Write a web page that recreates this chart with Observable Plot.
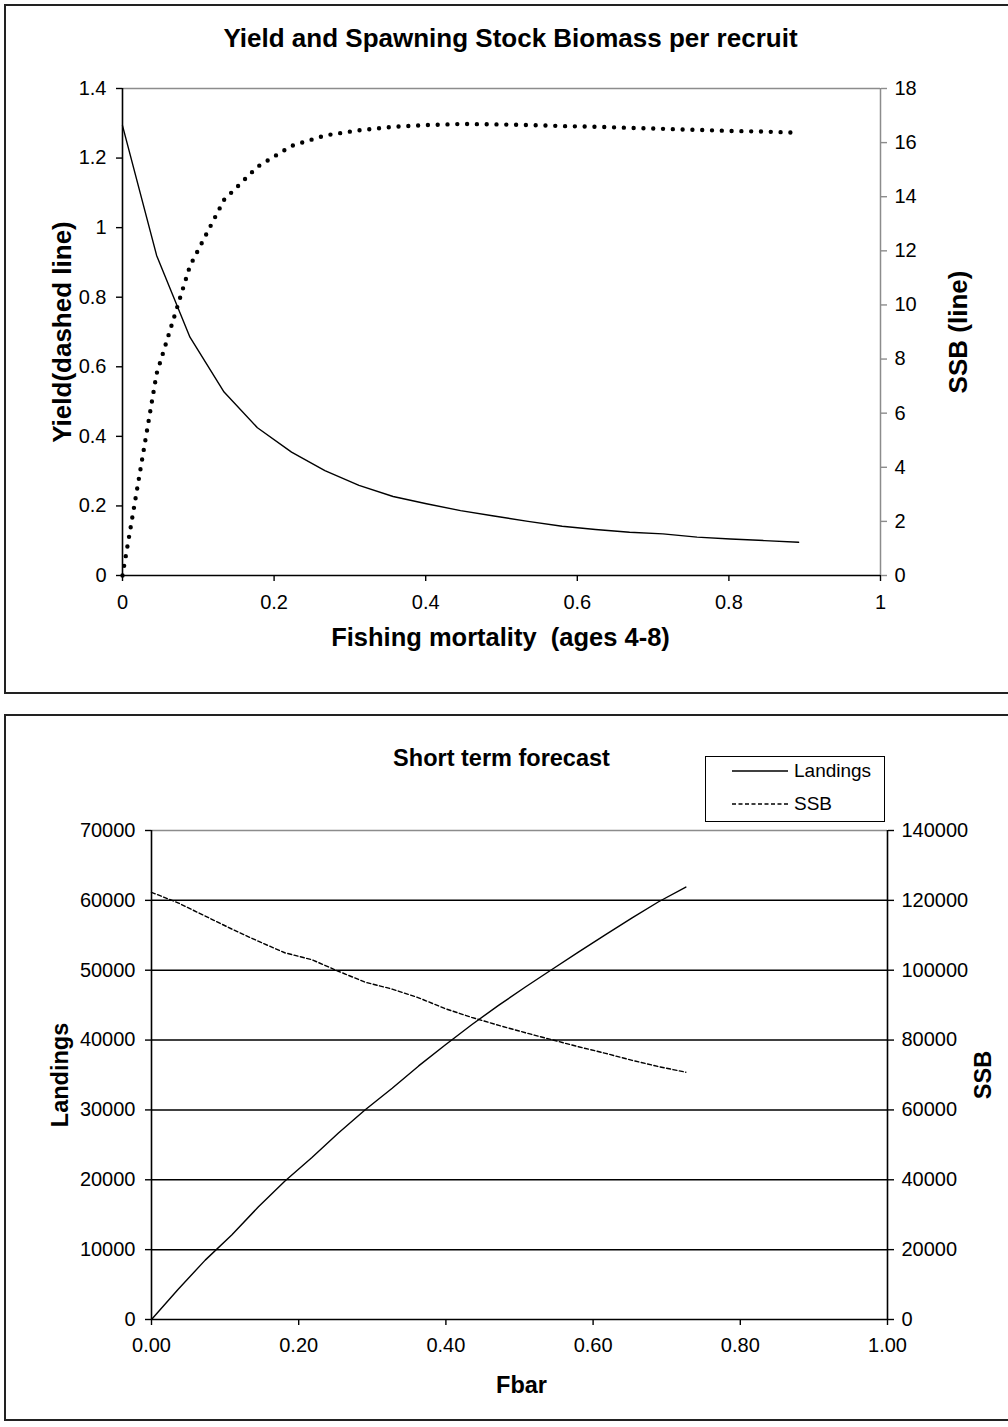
<!DOCTYPE html>
<html>
<head>
<meta charset="utf-8">
<script src="https://cdn.jsdelivr.net/npm/d3@7"></script>
<script src="https://cdn.jsdelivr.net/npm/@observablehq/plot@0.6"></script>
<style>
  html, body { margin: 0; padding: 0; background: #fff; }
  #page { position: relative; width: 1008px; height: 1427px; overflow: hidden; font-family: "Liberation Sans", Arial, sans-serif; }
  .box { position: absolute; left: 4px; width: 1012px; border: 2px solid #222; box-sizing: border-box; }
  .chart { position: absolute; left: 0; }
  .chart svg { background: none !important; overflow: visible; }
  #legend { position: absolute; left: 705px; top: 756px; width: 180px; height: 66px; border: 1.5px solid #000; box-sizing: border-box; background: #fff; font-size: 19px; }
  #legend .row { position: absolute; left: 26px; display: flex; align-items: center; }
  #legend svg { margin-right: 6px; }
</style>
</head>
<body>
<div id="page">
  <div class="box" style="top:4px;height:690px"></div>
  <div class="box" style="top:714px;height:707px"></div>
  <div class="chart" id="top" style="top:0"></div>
  <div class="chart" id="bottom" style="top:715px"></div>
  <div id="legend">
    <div class="row" style="top:3px"><svg width="56" height="10"><line x1="0" y1="5" x2="56" y2="5" stroke="#000" stroke-width="1.5"/></svg><span>Landings</span></div>
    <div class="row" style="top:36px"><svg width="56" height="10"><line x1="0" y1="5" x2="56" y2="5" stroke="#000" stroke-width="1.5" stroke-dasharray="4,2.5"/></svg><span>SSB</span></div>
  </div>
</div>
<script>
// ---- Yield and SSB per recruit ----
const fYpr = [0, 0.045, 0.089, 0.134, 0.178, 0.223, 0.267, 0.312, 0.357, 0.401, 0.446, 0.49, 0.535, 0.58, 0.624, 0.669, 0.713, 0.758, 0.802, 0.847, 0.892];
const yieldYpr = [0, 0.58, 0.89, 1.08, 1.175, 1.235, 1.265, 1.28, 1.29, 1.295, 1.298, 1.297, 1.295, 1.292, 1.29, 1.287, 1.284, 1.281, 1.278, 1.276, 1.273];
const ssbYpr = [16.63, 11.83, 8.81, 6.78, 5.46, 4.56, 3.88, 3.33, 2.92, 2.65, 2.40, 2.20, 2.00, 1.82, 1.70, 1.60, 1.54, 1.42, 1.35, 1.29, 1.23];
const yprXTicks = [0, 0.2, 0.4, 0.6, 0.8, 1];
const yieldTicks = [0, 0.2, 0.4, 0.6, 0.8, 1, 1.2, 1.4];
const ssbYprTicks = [0, 2, 4, 6, 8, 10, 12, 14, 16, 18];

// ---- Short term forecast ----
const fbar = [0, 0.036, 0.073, 0.109, 0.145, 0.181, 0.218, 0.254, 0.29, 0.327, 0.363, 0.399, 0.435, 0.472, 0.508, 0.544, 0.58, 0.617, 0.653, 0.689, 0.726];
const landings = [0, 4300, 8500, 12100, 16100, 19800, 23200, 26700, 30000, 33100, 36300, 39300, 42200, 45000, 47600, 50100, 52600, 55100, 57500, 59800, 61900];
const ssbForecast = [122300, 119300, 115500, 111800, 108300, 105000, 103000, 99700, 96600, 94600, 92100, 89000, 86500, 84200, 82100, 80100, 78100, 76200, 74200, 72400, 70800];
const fbarTicks = [0, 0.2, 0.4, 0.6, 0.8, 1];
const landingsTicks = [0, 10000, 20000, 30000, 40000, 50000, 60000, 70000];
const ssbTicks = [0, 20000, 40000, 60000, 80000, 100000, 120000, 140000];

const FONT = '"Liberation Sans", Arial, sans-serif';
const plain = d => String(d);

// right-hand series are drawn against the left scale, rescaled
function secondAxis(ticks, leftMax, rightMax) {
  const k = leftMax / rightMax;
  const vals = ticks.map(v => v * k);
  const lab = new Map(vals.map((v, i) => [v, String(ticks[i])]));
  return {k, vals, fmt: d => lab.get(d)};
}

// Top chart
{
  const r = secondAxis(ssbYprTicks, 1.4, 18);
  const rows = fYpr.map((f, i) => ({f, yld: yieldYpr[i], ssb: ssbYpr[i] * r.k}));
  const chart = Plot.plot({
    width: 1008, height: 700,
    marginLeft: 122, marginRight: 128, marginTop: 88, marginBottom: 125,
    style: {fontFamily: FONT, fontSize: "20px", color: "#000", background: "none"},
    x: {domain: [0, 1]},
    y: {domain: [0, 1.4]},
    marks: [
      Plot.ruleY([1.4], {stroke: "#8c8c8c", strokeWidth: 1.5}),
      Plot.ruleX([1], {stroke: "#8c8c8c", strokeWidth: 1.5}),
      Plot.line(rows, {x: "f", y: "ssb", stroke: "#000", strokeWidth: 1.4}),
      Plot.line(rows, {x: "f", y: "yld", stroke: "#000", strokeWidth: 4.4, strokeDasharray: "0,9.8", strokeLinecap: "round"}),
      Plot.ruleX([0], {stroke: "#000", strokeWidth: 1.6}),
      Plot.ruleY([0], {stroke: "#000", strokeWidth: 1.6}),
      Plot.axisX(yprXTicks, {anchor: "bottom", tickSize: 6, tickPadding: 13, label: null, tickFormat: plain, stroke: "#000", strokeWidth: 1.4}),
      Plot.axisY(yieldTicks, {anchor: "left", tickSize: 6, tickPadding: 10, label: null, tickFormat: plain, stroke: "#000", strokeWidth: 1.4}),
      Plot.axisY(r.vals, {anchor: "right", tickSize: 6, tickPadding: 8, label: null, tickFormat: r.fmt, stroke: "#8c8c8c", strokeWidth: 1.4}),
      Plot.text(["Yield and Spawning Stock Biomass per recruit"], {frameAnchor: "top", lineAnchor: "middle", textAnchor: "middle", dx: 9, dy: -50, fontSize: 26, fontWeight: "bold"}),
      Plot.text(["Fishing mortality  (ages 4-8)"], {frameAnchor: "bottom", lineAnchor: "middle", textAnchor: "middle", dx: -1, dy: 62, fontSize: 25.5, fontWeight: "bold"}),
      Plot.text(["Yield(dashed line)"], {frameAnchor: "left", lineAnchor: "middle", textAnchor: "middle", dx: -60, rotate: -90, fontSize: 26, fontWeight: "bold"}),
      Plot.text(["SSB (line)"], {frameAnchor: "right", lineAnchor: "middle", textAnchor: "middle", dx: 78, rotate: -90, fontSize: 26, fontWeight: "bold"})
    ]
  });
  document.getElementById("top").append(chart);
}

// Bottom chart
{
  const r = secondAxis(ssbTicks, 70000, 140000);
  const rows = fbar.map((f, i) => ({f, land: landings[i], ssb: ssbForecast[i] * r.k}));
  const chart = Plot.plot({
    width: 1008, height: 705,
    marginLeft: 151, marginRight: 121, marginTop: 115, marginBottom: 101,
    style: {fontFamily: FONT, fontSize: "20px", color: "#000", background: "none"},
    x: {domain: [0, 1]},
    y: {domain: [0, 70000]},
    marks: [
      Plot.ruleY(landingsTicks.slice(1, -1), {stroke: "#000", strokeWidth: 1.5}),
      Plot.ruleY([70000], {stroke: "#8c8c8c", strokeWidth: 1.5}),
      Plot.line(rows, {x: "f", y: "land", stroke: "#000", strokeWidth: 1.4}),
      Plot.line(rows, {x: "f", y: "ssb", stroke: "#000", strokeWidth: 1.4, strokeDasharray: "4,2.5"}),
      Plot.ruleX([0], {stroke: "#000", strokeWidth: 1.6}),
      Plot.ruleX([1], {stroke: "#000", strokeWidth: 1.6}),
      Plot.ruleY([0], {stroke: "#000", strokeWidth: 1.6}),
      Plot.axisX(fbarTicks, {anchor: "bottom", tickSize: 6, tickPadding: 12, label: null, tickFormat: d3.format(".2f"), stroke: "#000", strokeWidth: 1.4}),
      Plot.axisY(landingsTicks, {anchor: "left", tickSize: 6, tickPadding: 10, label: null, tickFormat: plain, stroke: "#000", strokeWidth: 1.4}),
      Plot.axisY(r.vals, {anchor: "right", tickSize: 6, tickPadding: 8, label: null, tickFormat: r.fmt, stroke: "#000", strokeWidth: 1.4}),
      Plot.text(["Short term forecast"], {frameAnchor: "top", lineAnchor: "middle", textAnchor: "middle", dx: -18, dy: -72, fontSize: 23.5, fontWeight: "bold"}),
      Plot.text(["Fbar"], {frameAnchor: "bottom", lineAnchor: "middle", textAnchor: "middle", dx: 2, dy: 66, fontSize: 23.5, fontWeight: "bold"}),
      Plot.text(["Landings"], {frameAnchor: "left", lineAnchor: "middle", textAnchor: "middle", dx: -91, rotate: -90, fontSize: 23.5, fontWeight: "bold"}),
      Plot.text(["SSB"], {frameAnchor: "right", lineAnchor: "middle", textAnchor: "middle", dx: 96, rotate: -90, fontSize: 23.5, fontWeight: "bold"})
    ]
  });
  document.getElementById("bottom").append(chart);
}
</script>
</body>
</html>
